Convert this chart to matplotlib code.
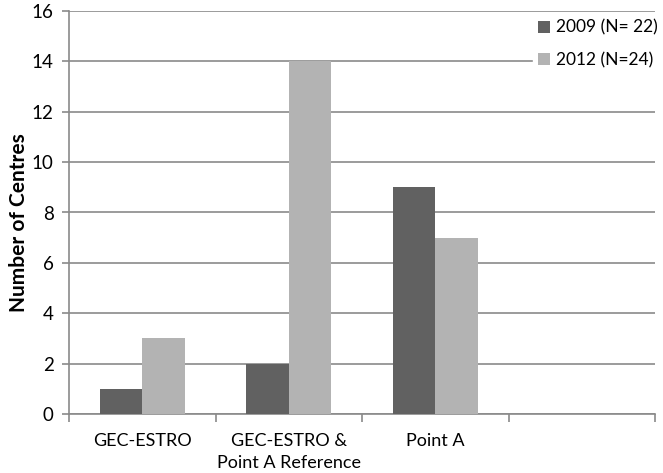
import numpy as np
import matplotlib
matplotlib.use("Agg")
import matplotlib.pyplot as plt

plt.rcParams['font.family'] = ['Lato', 'DejaVu Sans']

categories = ['GEC-ESTRO', 'GEC-ESTRO &\nPoint A Reference', 'Point A', '']
y2009 = [1, 2, 9, 0]
y2012 = [3, 14, 7, 0]
labels = ['2009 (N= 22)', '2012 (N=24)']

fig = plt.figure(figsize=(6.63, 4.73), dpi=100)
ax = fig.add_axes([69/663, 1 - 414/473, 586/663, 403/473])

x = np.arange(len(categories))
w = 0.29
ax.bar(x - w/2, y2009, w, color='#616161', label=labels[0], zorder=3)
ax.bar(x + w/2, y2012, w, color='#b3b3b3', label=labels[1], zorder=3)

ax.set_xlim(-0.5, len(categories) - 0.5)
ax.set_ylim(0, 16)
ax.set_yticks(range(0, 17, 2))
ax.yaxis.grid(True, color='#8a8a8a', linewidth=1.2, zorder=0)

ax.set_xticks(x)
ax.set_xticklabels(categories, fontsize=13, linespacing=1.4)
ax.set_xticks(np.arange(-0.5, len(categories), 1), minor=True)
ax.tick_params(axis='x', which='major', length=0, pad=14)
ax.tick_params(axis='x', which='minor', length=6, color='#8a8a8a', width=1.2)
ax.tick_params(axis='y', length=5, color='#8a8a8a', width=1.2, labelsize=13.5, pad=6)

for s in ['top', 'right']:
    ax.spines[s].set_visible(False)
for s in ['left', 'bottom']:
    ax.spines[s].set_color('#8a8a8a')
    ax.spines[s].set_linewidth(1.2)

ax.set_ylabel('Number of Centres', fontsize=15, fontweight='bold')
ax.yaxis.set_label_coords(-0.068, 0.475)

leg = ax.legend(loc='upper right', bbox_to_anchor=(1.02, 1.0), frameon=True,
                fontsize=12.5, handlelength=0.7, handleheight=0.7, handletextpad=0.35,
                labelspacing=0.95, borderpad=0.3, fancybox=False, borderaxespad=0.2)
leg.get_frame().set_edgecolor('white')
leg.get_frame().set_facecolor('white')
leg.get_frame().set_alpha(1)
leg.set_zorder(5)

fig.savefig('out.png', dpi=100)
